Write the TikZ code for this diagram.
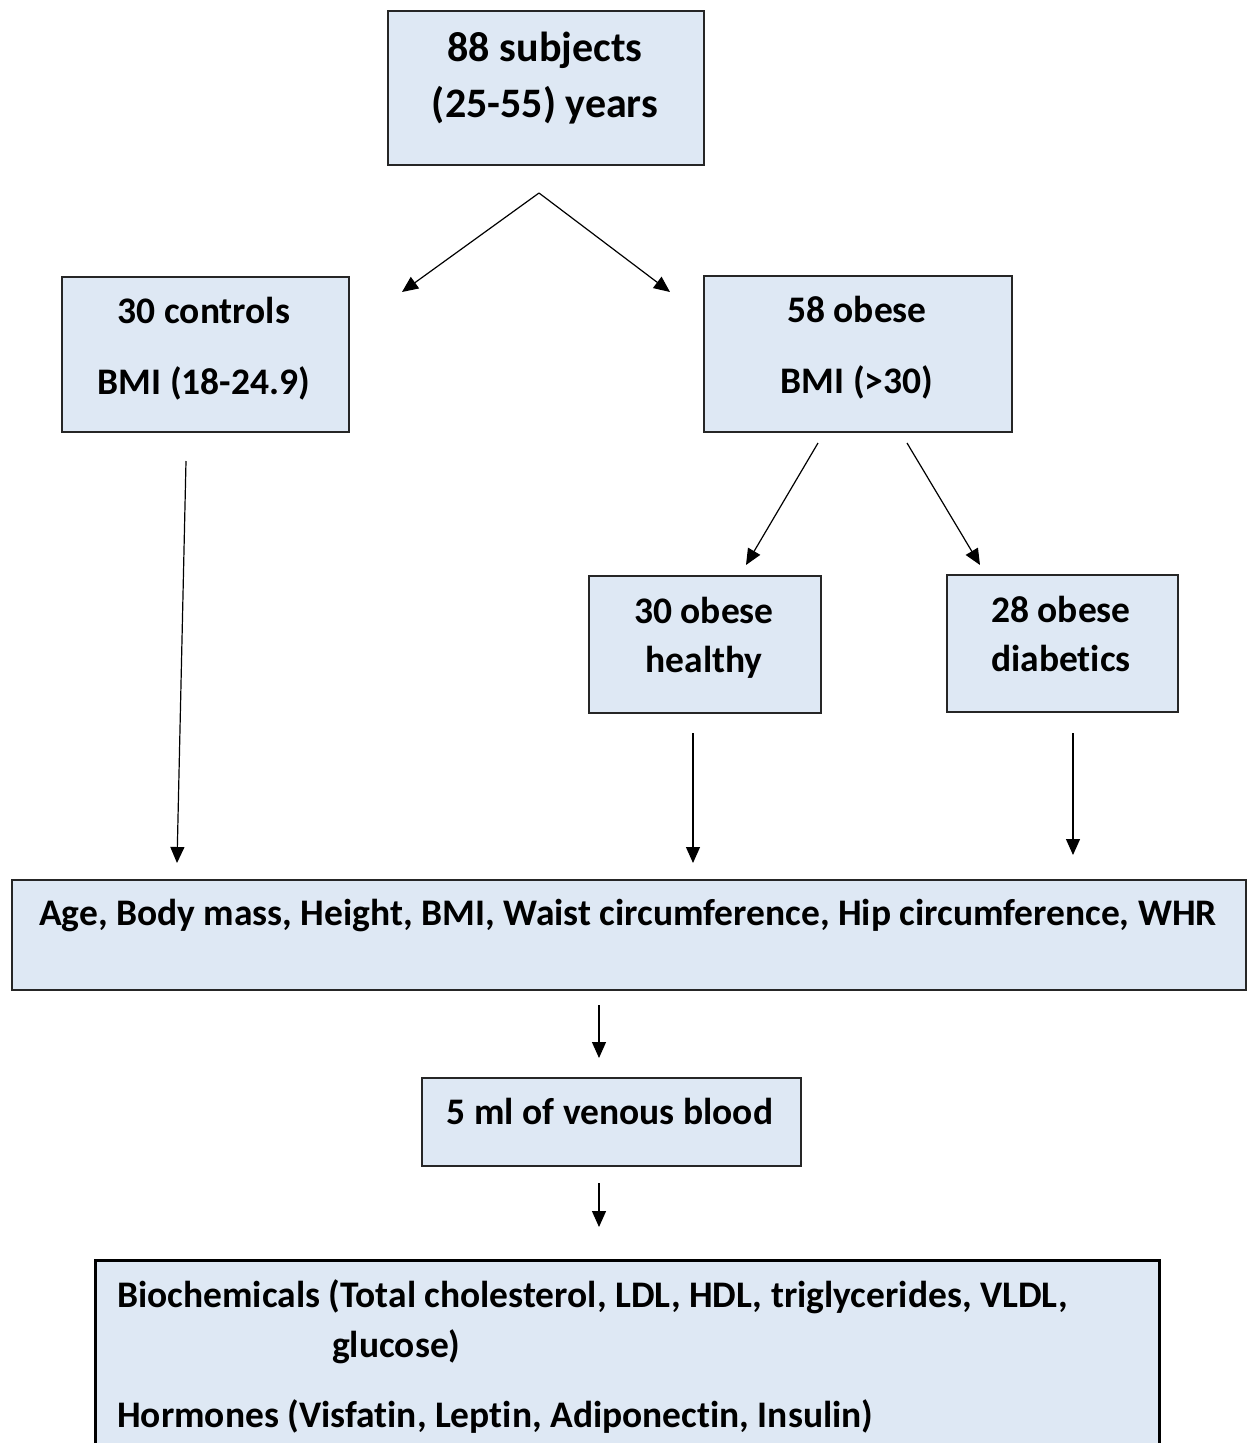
\documentclass[tikz,border=0pt]{standalone}
\usepackage{fontspec}
\setmainfont{Carlito}[Ligatures=NoCommon]
\usetikzlibrary{arrows.meta}
\definecolor{boxfill}{HTML}{DEE8F4}
\begin{document}
\begin{tikzpicture}[x=1pt,y=-1pt,
  box/.style={draw=black!85, line width=1.5pt, fill=boxfill, anchor=north west, inner sep=0pt},
  lbl/.style={font=\fontsize{37.5}{44}\selectfont\bfseries, anchor=base, inner sep=0pt},
  lblw/.style={lbl, anchor=base west},
  arr/.style={line width=1.2pt, -{Triangle[length=16pt,width=14pt]}}]
\path[use as bounding box, clip] (0,0) rectangle (1251,1443);
% boxes
\node[box, minimum width=316pt, minimum height=154pt] (top) at (387,10) {};
\node[box, minimum width=287pt, minimum height=155pt] (ctrl) at (61,276) {};
\node[box, minimum width=308pt, minimum height=156pt] (obese) at (703,275) {};
\node[box, minimum width=232pt, minimum height=137pt] (healthy) at (588,575) {};
\node[box, minimum width=231pt, minimum height=137pt] (diab) at (946,574) {};
\node[box, minimum width=1234pt, minimum height=110pt] (meas) at (11,879) {};
\node[box, minimum width=379pt, minimum height=88pt] (blood) at (421,1077) {};
\node[box, line width=3pt, draw=black, minimum width=1064pt, minimum height=200pt] (bio) at (94,1259) {};
% texts
\node[lbl, font=\fontsize{42}{50}\selectfont\bfseries] (t1) at (545,61) {88 subjects};
\node[lbl, font=\fontsize{42}{50}\selectfont\bfseries] (t2) at (545,117) {(25-55) years};
\node[lbl] (c1) at (204,323) {30 controls};
\node[lbl] (c2) at (204,394) {BMI (18-24.9)};
\node[lbl] (o1) at (857,322) {58 obese};
\node[lbl] (o2) at (857,393) {BMI (>30)};
\node[lbl] (h1) at (704,623) {30 obese};
\node[lbl] (h2) at (704,672) {healthy};
\node[lbl] (d1) at (1061,622) {28 obese};
\node[lbl] (d2) at (1061,671) {diabetics};
\node[lbl] (m1) at (628,925) {Age, Body mass, Height, BMI, Waist circumference, Hip circumference, WHR};
\node[lbl] (b1) at (610,1124) {5 ml of venous blood};
\node[lblw] (z1) at (117,1307) {Biochemicals (Total cholesterol, LDL, HDL, triglycerides, VLDL,};
\node[lblw] (z2) at (332,1357) {glucose)};
\node[lblw] (z3) at (117,1427) {Hormones (Visfatin, Leptin, Adiponectin, Insulin)};
% connector end points
\coordinate (s0) at (539,193);
\coordinate (e1) at (402,292);
\coordinate (e2) at (670,292);
\coordinate (s3) at (186,461);
\coordinate (e3) at (177,863);
\coordinate (s4) at (818,443);
\coordinate (e4) at (746,565);
\coordinate (s5) at (907,443);
\coordinate (e5) at (980,565);
\coordinate (s6) at (693,733);
\coordinate (e6) at (693,863);
\coordinate (s7) at (1073,733);
\coordinate (e7) at (1073,855);
\coordinate (s8) at (599,1005);
\coordinate (e8) at (599,1058);
\coordinate (s9) at (599,1183);
\coordinate (e9) at (599,1227);
\draw[arr] (s0) -- (e1);
\draw[arr] (s0) -- (e2);
\draw[arr] (s3) -- (e3);
\draw[arr] (s4) -- (e4);
\draw[arr] (s5) -- (e5);
\draw[arr] (s6) -- (e6);
\draw[arr] (s7) -- (e7);
\draw[arr] (s8) -- (e8);
\draw[arr] (s9) -- (e9);
\end{tikzpicture}
\end{document}
